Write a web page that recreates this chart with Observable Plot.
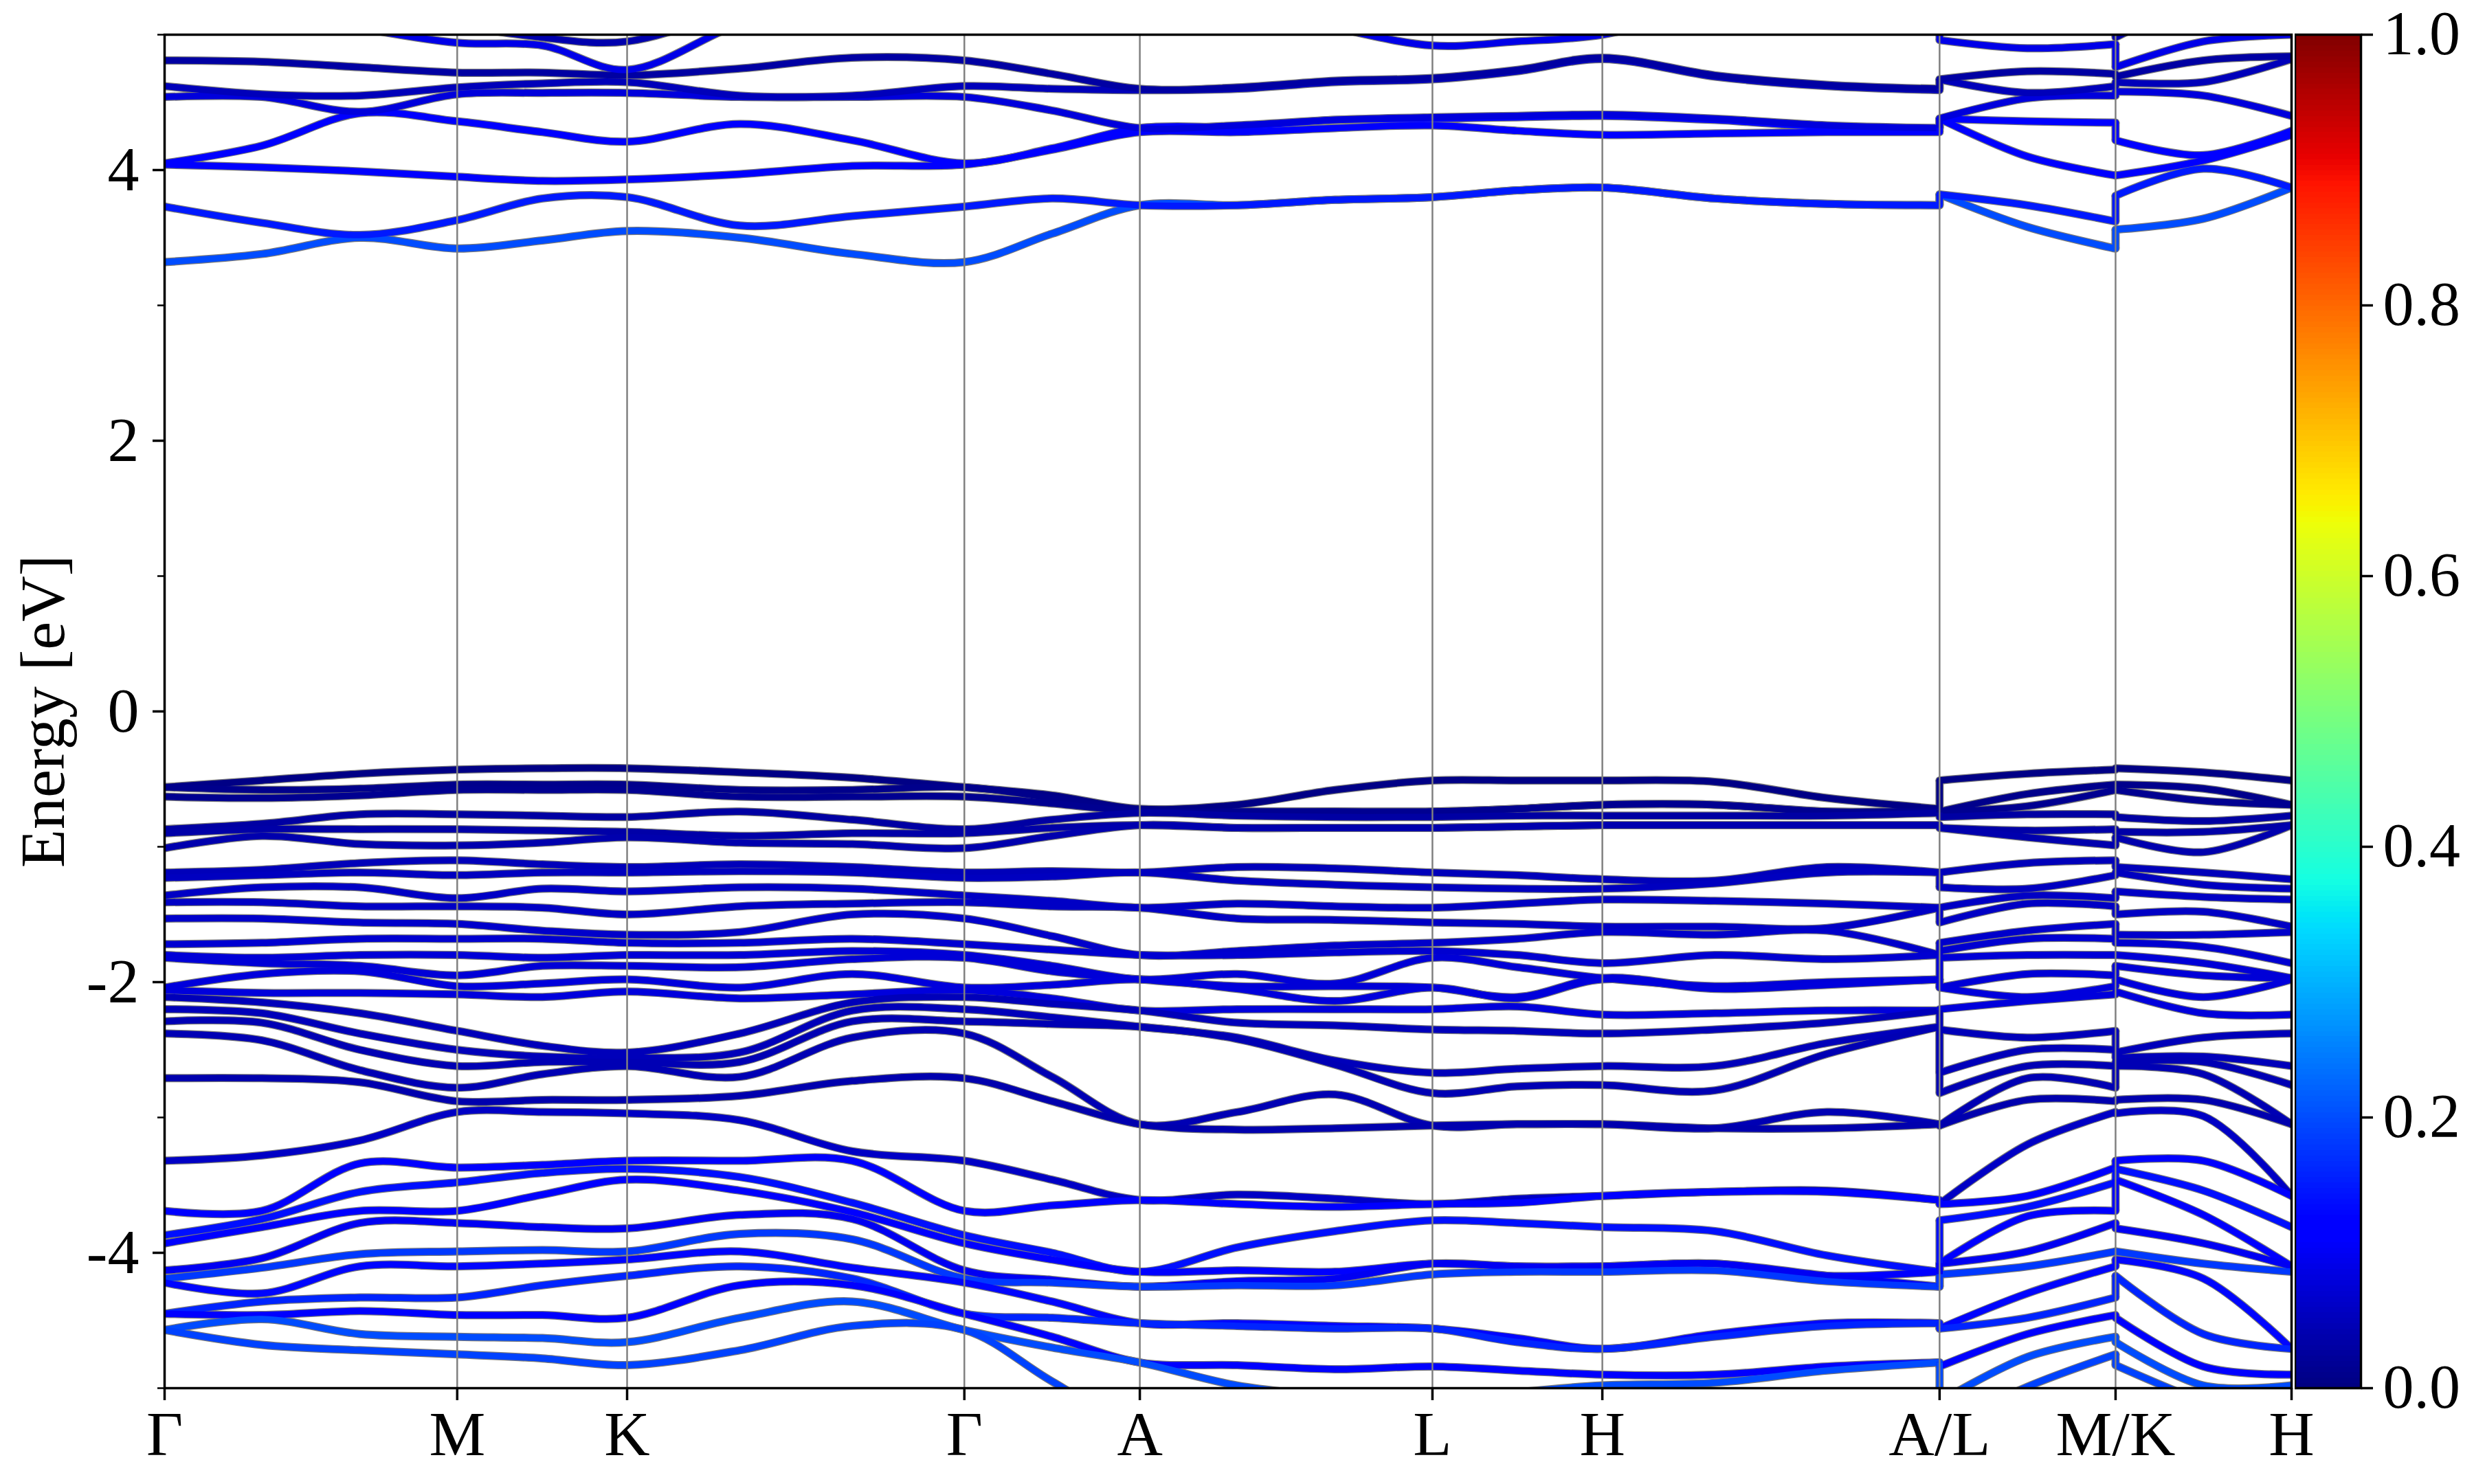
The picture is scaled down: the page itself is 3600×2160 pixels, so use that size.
<!DOCTYPE html>
<html>
<head>
<meta charset="utf-8">
<script src="https://cdn.jsdelivr.net/npm/d3@7"></script>
<script src="https://cdn.jsdelivr.net/npm/@observablehq/plot@0.6"></script>
<style>
  body { margin: 0; background: #fff; }
  #wrap { position: relative; width: 3600px; height: 2160px; background: #fff; overflow: hidden; }
  #main { position: absolute; left: 0; top: 0; }
  #cbar { position: absolute; left: 3339px; top: 0; }
</style>
</head>
<body>
<div id="wrap"><div id="main"></div><div id="cbar"></div></div>
<script>
// ---- high-symmetry path ----
const kTicks = [0, 0.577, 0.912, 1.577, 1.923, 2.5, 2.835, 3.5, 3.847, 4.194];
const kLabels = ["Γ", "M", "K", "Γ", "A", "L", "H", "A/L", "M/K", "H"];
// sample columns along the path (two breaks: A|L and M|K)
const kGrid = [0, 0.192, 0.385, 0.577, 0.745, 0.912, 1.134, 1.356, 1.577, 1.75, 1.923,
               2.115, 2.308, 2.5, 2.667, 2.835, 3.057, 3.278, 3.5,
               3.5, 3.673, 3.847,
               3.847, 4.02, 4.194];
const kPiece = [0,0,0,0,0,0,0,0,0,0,0,0,0,0,0,0,0,0,0, 1,1,1, 2,2,2];

// ---- valence band energies (eV), one sorted list per column ----
const valenceCols = [
 [-0.56,-0.56,-0.63,-0.87,-0.90,-1.01,-1.19,-1.23,-1.36,-1.41,-1.53,-1.72,-1.80,-1.82,-2.04,-2.06,-2.11,-2.20,-2.29,-2.38,-2.71,-3.32,-3.69,-3.87,-3.93,-4.13,-4.19,-4.22,-4.45,-4.45,-4.57,-4.57],
 [-0.51,-0.58,-0.64,-0.83,-0.87,-0.92,-1.17,-1.21,-1.30,-1.41,-1.53,-1.71,-1.82,-1.86,-1.94,-2.08,-2.15,-2.23,-2.30,-2.43,-2.71,-3.28,-3.69,-3.75,-3.81,-4.04,-4.11,-4.30,-4.36,-4.46,-4.49,-4.68],
 [-0.46,-0.57,-0.62,-0.76,-0.87,-0.98,-1.12,-1.19,-1.30,-1.44,-1.56,-1.68,-1.80,-1.88,-1.92,-2.08,-2.23,-2.38,-2.50,-2.65,-2.74,-3.17,-3.34,-3.55,-3.69,-3.78,-4.01,-4.10,-4.33,-4.43,-4.60,-4.72],
 [-0.43,-0.54,-0.58,-0.76,-0.87,-0.99,-1.10,-1.21,-1.38,-1.44,-1.57,-1.68,-1.80,-1.95,-2.03,-2.09,-2.36,-2.50,-2.62,-2.78,-2.88,-2.96,-3.37,-3.48,-3.69,-3.78,-3.99,-4.10,-4.33,-4.46,-4.62,-4.75],
 [-0.42,-0.54,-0.58,-0.77,-0.88,-0.97,-1.13,-1.19,-1.31,-1.45,-1.62,-1.68,-1.82,-1.88,-2.01,-2.11,-2.47,-2.55,-2.59,-2.68,-2.87,-2.96,-3.35,-3.41,-3.57,-3.81,-3.98,-4.08,-4.24,-4.46,-4.63,-4.78],
 [-0.42,-0.54,-0.58,-0.78,-0.89,-0.93,-1.15,-1.19,-1.33,-1.50,-1.65,-1.71,-1.80,-1.88,-1.98,-2.07,-2.52,-2.56,-2.59,-2.62,-2.87,-2.97,-3.32,-3.38,-3.46,-3.82,-3.99,-4.05,-4.17,-4.48,-4.66,-4.83],
 [-0.45,-0.58,-0.63,-0.74,-0.92,-0.97,-1.13,-1.18,-1.30,-1.44,-1.63,-1.71,-1.80,-1.89,-2.04,-2.12,-2.38,-2.52,-2.59,-2.70,-2.84,-3.02,-3.32,-3.44,-3.54,-3.72,-3.86,-3.99,-4.10,-4.24,-4.48,-4.72],
 [-0.49,-0.58,-0.63,-0.80,-0.90,-0.98,-1.15,-1.19,-1.31,-1.42,-1.50,-1.68,-1.77,-1.83,-1.94,-2.09,-2.15,-2.21,-2.29,-2.41,-2.73,-3.25,-3.32,-3.63,-3.70,-3.75,-3.90,-4.11,-4.19,-4.24,-4.36,-4.54],
 [-0.56,-0.56,-0.63,-0.87,-0.90,-1.01,-1.19,-1.23,-1.36,-1.41,-1.53,-1.72,-1.80,-1.82,-2.04,-2.06,-2.11,-2.20,-2.29,-2.38,-2.71,-3.32,-3.69,-3.87,-3.93,-4.13,-4.19,-4.22,-4.45,-4.45,-4.57,-4.57],
 [-0.62,-0.64,-0.68,-0.80,-0.86,-0.92,-1.18,-1.22,-1.40,-1.44,-1.66,-1.76,-1.88,-1.92,-2.02,-2.12,-2.16,-2.26,-2.31,-2.70,-2.88,-3.46,-3.65,-4.00,-4.05,-4.20,-4.22,-4.36,-4.48,-4.62,-4.70,-4.95],
 [-0.72,-0.73,-0.74,-0.75,-0.84,-0.84,-1.19,-1.19,-1.45,-1.45,-1.80,-1.80,-1.98,-1.98,-1.98,-2.21,-2.21,-2.33,-2.33,-3.05,-3.05,-3.61,-3.61,-4.14,-4.14,-4.25,-4.25,-4.52,-4.52,-4.81,-4.81,-5.3],
 [-0.69,-0.74,-0.74,-0.77,-0.86,-0.86,-1.15,-1.25,-1.42,-1.53,-1.77,-1.80,-1.94,-2.03,-2.05,-2.20,-2.30,-2.41,-2.42,-2.96,-3.09,-3.57,-3.64,-3.96,-4.13,-4.21,-4.24,-4.52,-4.54,-4.83,-4.98,-5.3],
 [-0.58,-0.74,-0.74,-0.78,-0.86,-0.86,-1.16,-1.28,-1.44,-1.54,-1.73,-1.78,-2.01,-2.03,-2.14,-2.20,-2.32,-2.58,-2.61,-2.83,-3.08,-3.60,-3.66,-3.84,-4.14,-4.19,-4.24,-4.54,-4.56,-4.86,-5.06,-5.3],
 [-0.51,-0.74,-0.74,-0.78,-0.86,-0.86,-1.19,-1.30,-1.45,-1.56,-1.71,-1.77,-1.82,-2.04,-2.04,-2.20,-2.35,-2.67,-2.82,-3.06,-3.06,-3.64,-3.64,-3.76,-4.08,-4.08,-4.16,-4.56,-4.56,-4.84,-5.1,-5.3],
 [-0.51,-0.72,-0.72,-0.77,-0.85,-0.85,-1.21,-1.31,-1.42,-1.57,-1.68,-1.80,-1.89,-2.11,-2.12,-2.18,-2.36,-2.64,-2.77,-3.05,-3.05,-3.60,-3.63,-3.78,-4.10,-4.10,-4.14,-4.63,-4.66,-4.87,-5.03,-5.3],
 [-0.51,-0.69,-0.69,-0.77,-0.84,-0.84,-1.24,-1.31,-1.39,-1.59,-1.63,-1.86,-1.97,-1.97,-1.98,-2.24,-2.38,-2.62,-2.76,-3.05,-3.05,-3.58,-3.58,-3.81,-4.10,-4.10,-4.14,-4.71,-4.71,-4.90,-4.98,-5.3],
 [-0.52,-0.69,-0.69,-0.77,-0.84,-0.84,-1.25,-1.27,-1.40,-1.59,-1.65,-1.80,-2.03,-2.04,-2.05,-2.23,-2.35,-2.62,-2.80,-3.08,-3.08,-3.55,-3.55,-3.84,-4.08,-4.08,-4.13,-4.60,-4.62,-4.90,-4.96,-5.3],
 [-0.64,-0.74,-0.74,-0.77,-0.84,-0.84,-1.15,-1.19,-1.42,-1.60,-1.62,-1.83,-2.00,-2.01,-2.02,-2.21,-2.30,-2.45,-2.53,-2.96,-3.08,-3.54,-3.55,-4.02,-4.17,-4.17,-4.21,-4.52,-4.54,-4.84,-4.87,-5.3],
 [-0.72,-0.73,-0.74,-0.75,-0.84,-0.84,-1.19,-1.19,-1.45,-1.45,-1.80,-1.80,-1.98,-1.98,-1.98,-2.21,-2.21,-2.33,-2.33,-3.05,-3.05,-3.61,-3.61,-4.14,-4.14,-4.25,-4.25,-4.52,-4.52,-4.81,-4.81,-5.3],
 [-0.51,-0.74,-0.74,-0.78,-0.86,-0.86,-1.19,-1.30,-1.45,-1.56,-1.71,-1.77,-1.82,-2.04,-2.04,-2.20,-2.35,-2.67,-2.82,-3.06,-3.06,-3.64,-3.64,-3.76,-4.08,-4.08,-4.16,-4.56,-4.56,-4.84,-5.1,-5.3],
 [-0.46,-0.61,-0.70,-0.76,-0.88,-0.93,-1.12,-1.31,-1.36,-1.42,-1.62,-1.68,-1.80,-1.94,-2.11,-2.14,-2.41,-2.50,-2.62,-2.71,-2.87,-3.20,-3.58,-3.66,-3.73,-3.99,-4.10,-4.30,-4.48,-4.60,-4.77,-4.99],
 [-0.43,-0.54,-0.58,-0.76,-0.87,-0.99,-1.10,-1.21,-1.38,-1.44,-1.57,-1.68,-1.80,-1.95,-2.03,-2.09,-2.36,-2.50,-2.62,-2.78,-2.88,-2.96,-3.37,-3.48,-3.69,-3.78,-3.99,-4.10,-4.33,-4.46,-4.62,-4.75],
 [-0.42,-0.54,-0.58,-0.78,-0.89,-0.93,-1.15,-1.19,-1.33,-1.50,-1.65,-1.71,-1.80,-1.88,-1.98,-2.07,-2.52,-2.56,-2.59,-2.62,-2.87,-2.97,-3.32,-3.38,-3.46,-3.82,-3.99,-4.05,-4.17,-4.48,-4.66,-4.83],
 [-0.45,-0.57,-0.66,-0.81,-0.89,-1.04,-1.19,-1.28,-1.37,-1.48,-1.65,-1.74,-1.86,-1.95,-2.11,-2.23,-2.41,-2.55,-2.59,-2.68,-2.87,-2.99,-3.32,-3.54,-3.72,-3.93,-4.08,-4.19,-4.60,-4.84,-4.98,-5.1],
 [-0.51,-0.69,-0.69,-0.77,-0.84,-0.84,-1.24,-1.31,-1.39,-1.59,-1.63,-1.86,-1.97,-1.97,-1.98,-2.24,-2.38,-2.62,-2.76,-3.05,-3.05,-3.58,-3.58,-3.81,-4.10,-4.10,-4.14,-4.71,-4.71,-4.90,-4.98,-5.3]
];

// ---- conduction band energies (eV), one sorted list per column ----
const conductionCols = [
 [3.32,3.73,4.04,4.05,4.54,4.62,4.81,5.3,5.6],
 [3.38,3.61,4.02,4.18,4.54,4.56,4.80,5.2,5.5],
 [3.50,3.52,3.99,4.42,4.43,4.55,4.76,5.05,5.5],
 [3.42,3.63,3.95,4.36,4.56,4.61,4.72,4.94,5.1],
 [3.48,3.79,3.92,4.28,4.57,4.64,4.72,4.92,4.98],
 [3.55,3.80,3.93,4.21,4.57,4.65,4.70,4.74,4.95],
 [3.50,3.59,3.97,4.34,4.54,4.55,4.75,5.08,5.2],
 [3.38,3.66,4.03,4.22,4.54,4.55,4.83,5.3,5.5],
 [3.32,3.73,4.04,4.05,4.54,4.62,4.81,5.3,5.6],
 [3.53,3.79,4.15,4.16,4.44,4.60,4.71,5.3,5.6],
 [3.74,3.74,4.28,4.31,4.31,4.59,4.60,5.3,5.6],
 [3.74,3.74,4.28,4.32,4.33,4.60,4.61,5.2,5.6],
 [3.78,3.78,4.31,4.37,4.37,4.65,4.66,5.05,5.6],
 [3.80,3.80,4.33,4.38,4.39,4.67,4.68,4.92,5.6],
 [3.85,3.85,4.29,4.39,4.40,4.73,4.74,4.95,5.6],
 [3.87,3.87,4.26,4.40,4.41,4.82,4.83,5.0,5.6],
 [3.79,3.79,4.27,4.37,4.38,4.69,4.70,5.2,5.6],
 [3.75,3.75,4.28,4.32,4.33,4.62,4.63,5.3,5.6],
 [3.74,3.74,4.28,4.31,4.31,4.59,4.60,5.3,5.6],
 [3.82,3.82,4.38,4.38,4.38,4.67,4.67,4.96,5.5],
 [3.58,3.74,4.10,4.36,4.53,4.57,4.73,4.90,5.3],
 [3.42,3.62,3.96,4.35,4.55,4.62,4.71,4.93,5.1],
 [3.56,3.81,3.96,4.22,4.58,4.65,4.69,4.76,4.98],
 [3.64,4.01,4.07,4.11,4.55,4.65,4.81,4.95,5.3],
 [3.87,3.87,4.26,4.29,4.40,4.82,4.84,5.0,5.6]
];

// ---- projected weight per band (colour value) ----
const valenceWeight = [0.005,0.01,0.015, 0.03,0.035,0.04, 0.05,0.055, 0.06,0.06,0.065, 0.07,0.075,0.075,
                       0.08,0.08,0.05,0.05,0.045,0.045,0.04,0.06,
                       0.11,0.14,0.12,0.10,0.18,0.13,0.16,0.12,0.20,0.19];
const conductionWeight = [0.20,0.15,0.12,0.11,0.08,0.05,0.03,0.09,0.04];

const yMajorTicks = [-4, -2, 0, 2, 4];
const yMinorTicks = [-5, -3, -1, 1, 3, 5];
const cbarTicks = [0, 0.2, 0.4, 0.6, 0.8, 1.0];
const jetStops  = [0, 0.11, 0.125, 0.34, 0.35, 0.375, 0.64, 0.65, 0.66, 0.89, 0.91, 1];
const jetColors = ["#000080","#0000ff","#0000ff","#00dbff","#00e6f7","#14ffe2","#eeff08","#f7f500","#ffec00","#ff1300","#e80000","#800000"];

// ---- build tables ----
const bandRows = [];
const jumpRows = [];
function addSet(cols, weights, tag) {
  cols.forEach((col, c) => col.forEach((E, b) => {
    bandRows.push({k: kGrid[c], E, w: weights[b], id: tag + b + "-" + kPiece[c]});
  }));
  for (const [a, b2] of [[18, 19], [21, 22]]) {
    cols[a].forEach((E, b) => jumpRows.push({k: kGrid[a], E1: E, E2: cols[b2][b], w: weights[b]}));
  }
}
addSet(valenceCols, valenceWeight, "v");
addSet(conductionCols, conductionWeight, "c");

const colorScale = {type: "linear", domain: jetStops, range: jetColors, interpolate: "rgb"};
const font = "'Liberation Serif', 'Times New Roman', serif";

const main = Plot.plot({
  width: 3600, height: 2160,
  marginLeft: 239, marginRight: 266, marginTop: 50, marginBottom: 140,
  style: {fontFamily: font, background: "white", color: "black", overflow: "visible"},
  x: {domain: [0, kTicks[kTicks.length - 1]]},
  y: {domain: [-5, 5]},
  color: colorScale,
  marks: [
    Plot.line(bandRows, {x: "k", y: "E", z: "id", stroke: "#7a7a7a", strokeWidth: 12, curve: "catmull-rom", clip: true, strokeLinejoin: "round"}),
    Plot.ruleX(jumpRows, {x: "k", y1: "E1", y2: "E2", stroke: "#7a7a7a", strokeWidth: 12, clip: true}),
    Plot.line(bandRows, {x: "k", y: "E", z: "id", stroke: "w", strokeWidth: 9.5, curve: "catmull-rom", clip: true, strokeLinejoin: "round"}),
    Plot.ruleX(jumpRows, {x: "k", y1: "E1", y2: "E2", stroke: "w", strokeWidth: 9.5, clip: true}),
    Plot.ruleX(kTicks, {stroke: "#808080", strokeWidth: 2.5}),
    Plot.frame({stroke: "black", strokeWidth: 3.5}),
    Plot.axisX(kTicks, {tickFormat: d => kLabels[kTicks.indexOf(d)], tickSize: 18, tickPadding: 14, fontSize: 92, strokeWidth: 3.5, label: null}),
    Plot.axisY(yMajorTicks, {tickFormat: d => String(d), tickSize: 17, tickPadding: 20, fontSize: 92, strokeWidth: 3.5, label: null}),
    Plot.axisY(yMinorTicks, {tickFormat: () => "", tickSize: 10, strokeWidth: 2.5, label: null}),
    Plot.text(["Energy [eV]"], {frameAnchor: "left", text: d => d, rotate: -90, dx: -176, fontSize: 92, textAnchor: "middle", lineAnchor: "middle", fill: "black"})
  ]
});
document.getElementById("main").appendChild(main);

const cbarStep = 0.004;
const cbarSteps = d3.range(0, 1, cbarStep);
const cbar = Plot.plot({
  width: 261, height: 2160,
  marginLeft: 0, marginRight: 165, marginTop: 50, marginBottom: 140,
  style: {fontFamily: font, background: "transparent", color: "black"},
  x: {domain: [0, 1]},
  y: {domain: [0, 1]},
  color: colorScale,
  marks: [
    Plot.rect(cbarSteps, {x1: () => 0, x2: () => 1, y1: d => d, y2: d => d + cbarStep, fill: d => d + cbarStep / 2, inset: -0.6, shapeRendering: "crispEdges"}),
    Plot.frame({stroke: "black", strokeWidth: 3.5}),
    Plot.axisY(cbarTicks, {anchor: "right", tickFormat: d => d.toFixed(1), tickSize: 17, tickPadding: 15, fontSize: 90, strokeWidth: 3.5, label: null}),
    Plot.axisX([], {label: null})
  ]
});
document.getElementById("cbar").appendChild(cbar);
</script>
</body>
</html>
